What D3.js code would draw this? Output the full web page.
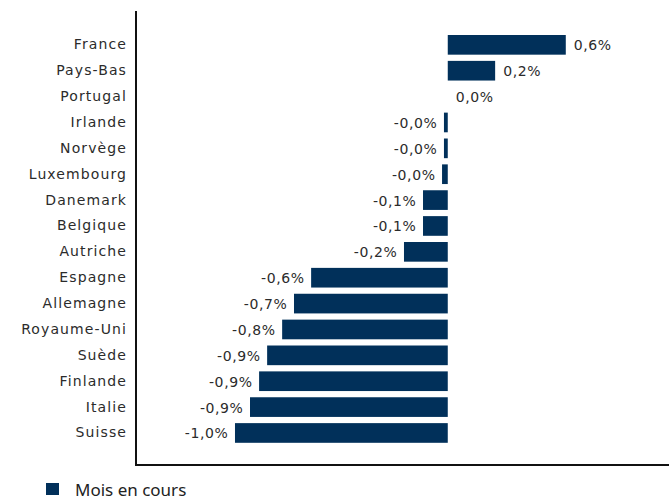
<!DOCTYPE html>
<html>
<head>
<meta charset="utf-8">
<script src="https://cdn.jsdelivr.net/npm/d3@7"></script>
<style>
    body { margin: 0; background: #fff; }
    .cat-label { font-family: "DejaVu Sans", sans-serif; font-size: 14px; letter-spacing: 1.1px; fill: #2b2b2b; }
    .val-label { font-family: "DejaVu Sans", sans-serif; font-size: 14px; letter-spacing: 0.6px; fill: #2b2b2b; }
    .legend-label { font-family: "Noto Sans", sans-serif; font-size: 17px; fill: #222; }
</style>
</head>
<body>
<div id="chart"></div>
<script>
// Variation par pays - mois en cours
const countries = ["France", "Pays-Bas", "Portugal", "Irlande", "Norvège", "Luxembourg",
    "Danemark", "Belgique", "Autriche", "Espagne", "Allemagne", "Royaume-Uni",
    "Suède", "Finlande", "Italie", "Suisse"];
const values = [0.558, 0.224, 0.0, -0.018, -0.018, -0.027,
    -0.117, -0.117, -0.207, -0.646, -0.727, -0.783,
    -0.854, -0.892, -0.935, -1.006];
const seriesName = "Mois en cours";

const width = 669;
const height = 501;
const barColor = "#01305a";

const x = d3.scaleLinear()
    .domain([-1.474, 1.046])
    .range([136, 669]);

const y = d3.scaleBand()
    .domain(countries)
    .range([31.9, 445.9])
    .paddingInner(0.24)
    .paddingOuter(0.12);

const fmt = v => {
    const s = Math.abs(v).toFixed(1).replace(".", ",") + "%";
    return (v < 0 ? "-" : "") + s;
};

const svg = d3.select("#chart")
    .append("svg")
    .attr("width", width)
    .attr("height", height);

const rows = countries.map((c, i) => ({ country: c, value: values[i] }));

// Bars
svg.selectAll(".bar")
    .data(rows)
    .enter()
    .append("rect")
    .attr("class", "bar")
    .attr("x", d => x(Math.min(0, d.value)))
    .attr("y", d => y(d.country))
    .attr("width", d => Math.abs(x(d.value) - x(0)))
    .attr("height", y.bandwidth())
    .attr("fill", barColor);

// Value labels (letter-spacing adds a trailing gap, so end-anchored ones shift a bit)
svg.selectAll(".val-label")
    .data(rows)
    .enter()
    .append("text")
    .attr("class", "val-label")
    .attr("x", d => d.value < 0 ? x(d.value) - 6.5 : x(d.value) + 8)
    .attr("y", d => y(d.country) + y.bandwidth() / 2 + 1.5)
    .attr("text-anchor", d => d.value < 0 ? "end" : "start")
    .attr("dominant-baseline", "middle")
    .text(d => fmt(d.value));

// Category labels
svg.selectAll(".cat-label")
    .data(countries)
    .enter()
    .append("text")
    .attr("class", "cat-label")
    .attr("x", 127)
    .attr("y", d => y(d) + y.bandwidth() / 2 + 0.5)
    .attr("text-anchor", "end")
    .attr("dominant-baseline", "middle")
    .text(d => d);

// Axis lines
svg.append("line")
    .attr("x1", 136).attr("x2", 136)
    .attr("y1", 11).attr("y2", 466)
    .attr("stroke", "#111").attr("stroke-width", 2);
svg.append("line")
    .attr("x1", 135).attr("x2", 669)
    .attr("y1", 465).attr("y2", 465)
    .attr("stroke", "#111").attr("stroke-width", 2);

// Legend
const legend = svg.append("g").attr("transform", "translate(46,483)");
legend.append("rect")
    .attr("width", 13).attr("height", 12)
    .attr("fill", barColor);
legend.append("text")
    .attr("class", "legend-label")
    .attr("x", 29)
    .attr("y", 12.5)
    .text(seriesName);
</script>
</body>
</html>
